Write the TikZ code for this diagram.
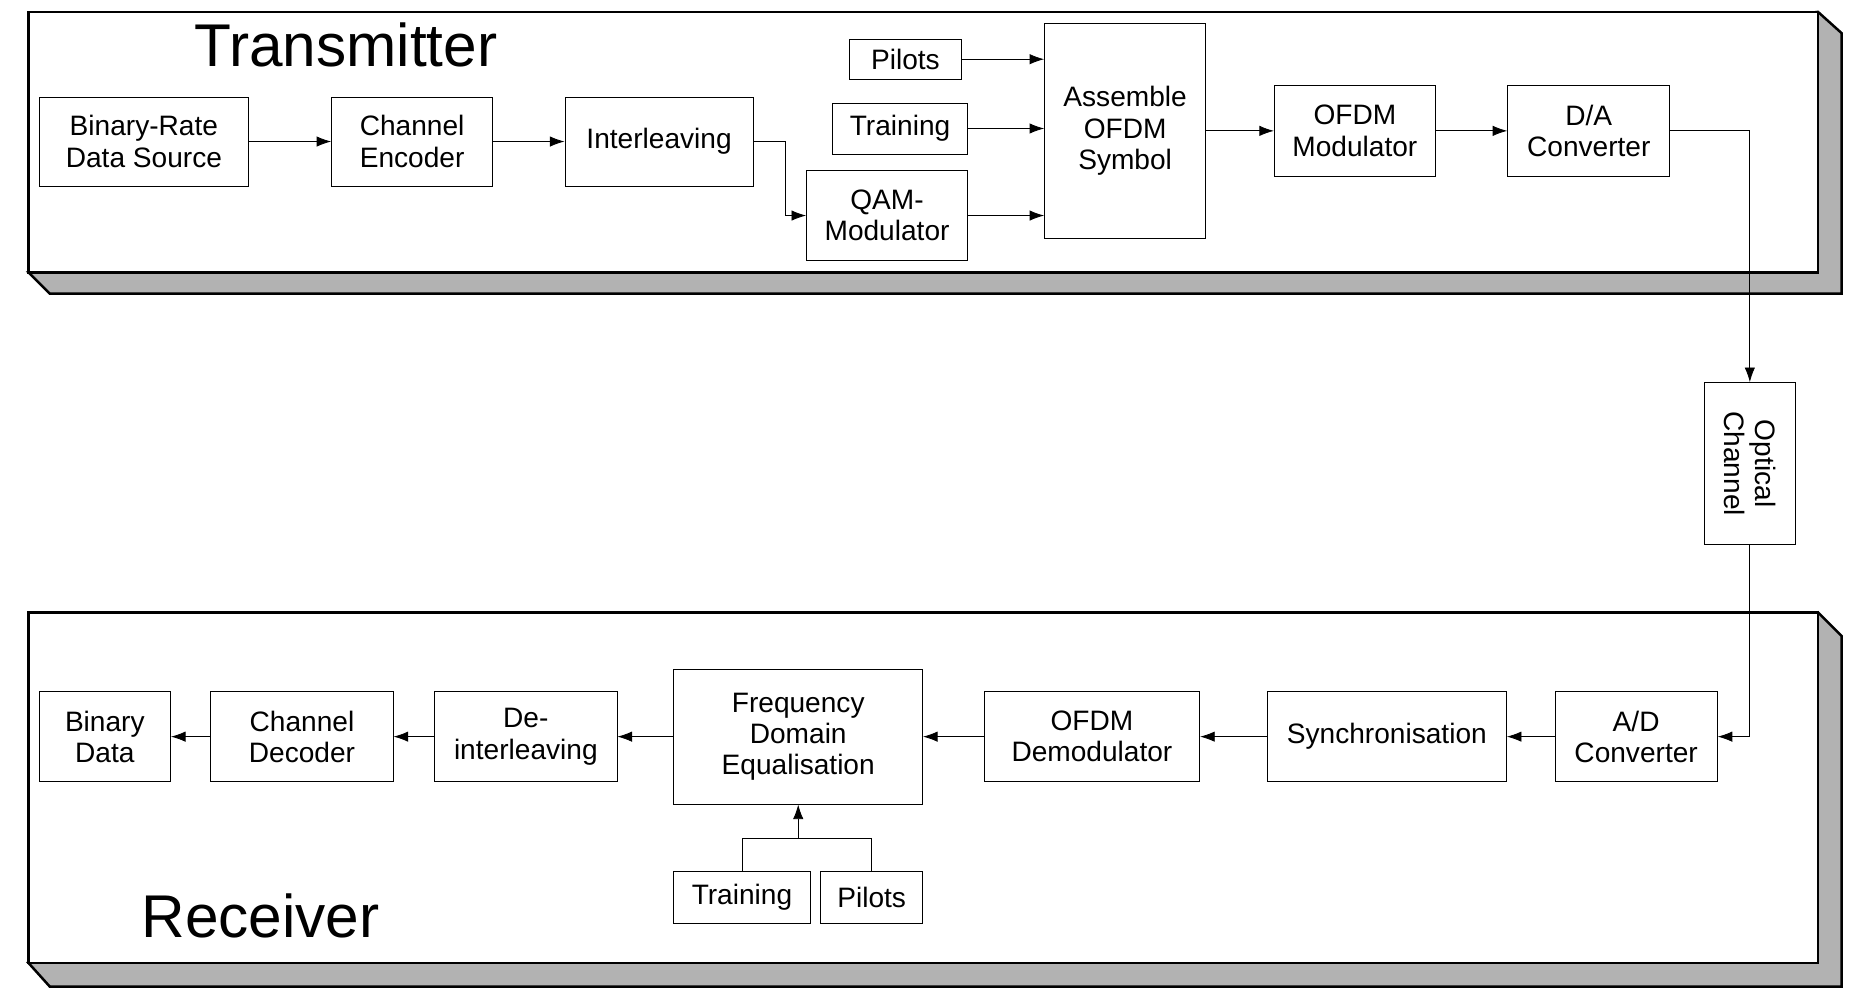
\documentclass[tikz,border=0pt]{standalone}
\usepackage{fontspec}
\setmainfont{Liberation Sans}
\usetikzlibrary{arrows.meta}

\begin{document}
\begin{tikzpicture} [x=0.02cm, y=-0.02cm,
        block/.style={draw, align=center, inner sep=0pt, font=\fontsize{13.5}{15}\selectfont},
        arr/.style={-{Latex[length=7pt,width=5pt]}},
        panel/.style={draw, line width=1.2pt},
        title/.style={font=\fontsize{29}{31}\selectfont}]
            \useasboundingbox (0,0) rectangle (1568,848);

            % panels
            \draw[panel, fill=gray!60] (24,230) -- (42,248) -- (1555,248) -- (1555,28) -- (1535,10) -- cycle;
            \draw[panel, fill=white] (24,10) rectangle (1535,230);
            \draw[panel, fill=gray!60] (24,813) -- (42,833) -- (1555,833) -- (1555,537) -- (1535,517) -- cycle;
            \draw[panel, fill=white] (24,517) rectangle (1535,813);
            \node[title] (tx) at (292,38) {Transmitter};
            \node[title] (rx) at (220,773) {Receiver};

            % transmitter
            \node[block, minimum width=177*0.02cm, minimum height=75*0.02cm] (src) at (121.5,119.5) {Binary-Rate\\Data Source};
            \node[block, minimum width=136*0.02cm, minimum height=75*0.02cm] (enc) at (348,119.5)   {Channel\\Encoder};
            \node[block, minimum width=159*0.02cm, minimum height=75*0.02cm] (il)  at (556.5,119.5) {Interleaving};
            \node[block, minimum width=95*0.02cm,  minimum height=34*0.02cm] (pil) at (764.5,50)    {Pilots};
            \node[block, minimum width=114*0.02cm, minimum height=43*0.02cm] (trn) at (760,108.5)   {Training};
            \node[block, minimum width=136*0.02cm, minimum height=76*0.02cm] (qam) at (749,182)     {QAM-\\Modulator};
            \node[block, minimum width=136*0.02cm, minimum height=181*0.02cm] (asm) at (950,110.5)  {Assemble\\OFDM\\Symbol};
            \node[block, minimum width=136*0.02cm, minimum height=77*0.02cm] (mod) at (1144,110.5)  {OFDM\\Modulator};
            \node[block, minimum width=137*0.02cm, minimum height=77*0.02cm] (da)  at (1341.5,110.5) {D/A\\Converter};
            \node[block, minimum width=137*0.02cm, minimum height=77*0.02cm, rotate=-90] (opt) at (1477.5,391.5) {Optical\\Channel};

            % receiver
            \node[block, minimum width=137*0.02cm, minimum height=76*0.02cm] (ad)   at (1381.5,622) {A/D\\Converter};
            \node[block, minimum width=202*0.02cm, minimum height=76*0.02cm] (sync) at (1171,622)   {Synchronisation};
            \node[block, minimum width=182*0.02cm, minimum height=76*0.02cm] (dem)  at (922,622)    {OFDM\\Demodulator};
            \node[block, minimum width=210*0.02cm, minimum height=114*0.02cm] (fde) at (674,622)    {Frequency\\Domain\\Equalisation};
            \node[block, minimum width=154*0.02cm, minimum height=76*0.02cm] (dil)  at (444,622)    {De-\\interleaving};
            \node[block, minimum width=154*0.02cm, minimum height=76*0.02cm] (dec)  at (255,622)    {Channel\\Decoder};
            \node[block, minimum width=111*0.02cm, minimum height=76*0.02cm] (out)  at (88.5,622)   {Binary\\Data};
            \node[block, minimum width=115*0.02cm, minimum height=44*0.02cm] (rtrn) at (626.5,758)  {Training};
            \node[block, minimum width=86*0.02cm,  minimum height=44*0.02cm] (rpil) at (736,758)    {Pilots};
            \coordinate (join) at (674,708);

            \draw[arr] (src) -- (enc);
            \draw[arr] (enc) -- (il);
            \draw[arr] (il.east) -| (663,150) |- (qam.west);
            \draw[arr] (pil.east) -- (pil.east -| asm.west);
            \draw[arr] (trn.east) -- (trn.east -| asm.west);
            \draw[arr] (qam.east) -- (qam.east -| asm.west);
            \draw[arr] (asm.east |- mod) -- (mod);
            \draw[arr] (mod) -- (da);
            \draw[arr] (da.east) -| (opt.west);
            \draw[arr] (opt.east) |- (ad.east);
            \draw[arr] (ad) -- (sync);
            \draw[arr] (sync) -- (dem);
            \draw[arr] (dem) -- (fde);
            \draw[arr] (fde) -- (dil);
            \draw[arr] (dil) -- (dec);
            \draw[arr] (dec) -- (out);
            \draw (rtrn.north) |- (join) -| (rpil.north);
            \draw[arr] (join) -- (fde.south);
        \end{tikzpicture}
\end{document}
